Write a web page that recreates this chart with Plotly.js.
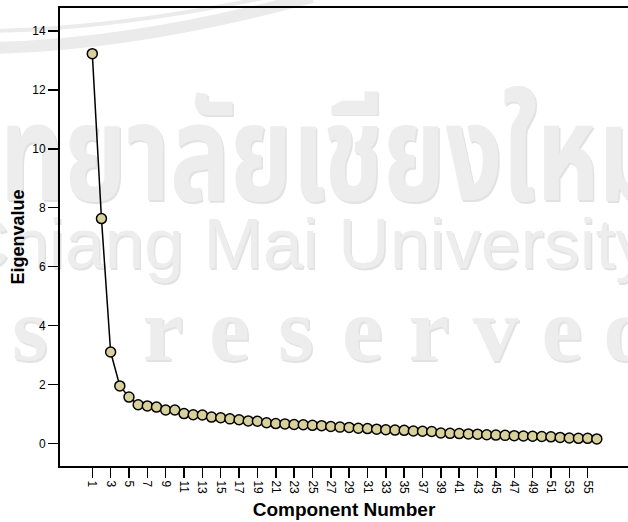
<!DOCTYPE html>
<html>
<head>
<meta charset="utf-8">
<script src="https://cdn.plot.ly/plotly-3.0.1.min.js"></script>
<style>
  html, body { margin: 0; padding: 0; background: #ffffff; }
  #wrap { position: relative; width: 628px; height: 522px; overflow: hidden; }
  #wm { position: absolute; left: 0; top: 0; z-index: 0; }
  #chart { position: absolute; left: 0; top: 0; z-index: 1; width: 628px; height: 522px; }
</style>
</head>
<body>
<div id="wrap">
<svg id="wm" width="628" height="522" xmlns="http://www.w3.org/2000/svg">
  <g fill="none" stroke="#ebebeb">
    <path d="M -5 31 Q 120 28 268 -3" stroke-width="4"/>
    <path d="M -5 48 Q 140 44 312 -3" stroke-width="12"/>
  </g>
  <g id="wmtext"></g>
</svg>
<div id="chart"></div>
</div>
<script>
// ---- data ----
var components = [1,2,3,4,5,6,7,8,9,10,11,12,13,14,15,16,17,18,19,20,21,22,23,24,25,26,27,28,
                  29,30,31,32,33,34,35,36,37,38,39,40,41,42,43,44,45,46,47,48,49,50,51,52,53,54,55,56];
var eigenvalues = [13.23,7.63,3.10,1.95,1.57,1.31,1.27,1.23,1.13,1.13,1.01,0.97,0.96,0.89,0.87,0.83,
                   0.80,0.76,0.75,0.70,0.67,0.66,0.64,0.63,0.61,0.60,0.57,0.55,0.54,0.51,0.50,0.48,
                   0.46,0.45,0.44,0.42,0.41,0.40,0.35,0.34,0.33,0.32,0.31,0.29,0.28,0.27,0.26,0.25,
                   0.24,0.23,0.22,0.20,0.18,0.17,0.17,0.15];
var xTickVals = [1,3,5,7,9,11,13,15,17,19,21,23,25,27,29,31,33,35,37,39,41,43,45,47,49,51,53,55];
var yTickVals = [0,2,4,6,8,10,12,14];
var xTitle = "Component Number";
var yTitle = "Eigenvalue";

// watermark texts (background of the scanned page)
var wmThai = "มหาวิทยาลัยเชียงใหม่";
var wmEng = "Chiang Mai University";
var wmRights = "All rights reserved";

// ---- watermark ----
(function () {
  var NS = "http://www.w3.org/2000/svg";
  var g = document.getElementById("wmtext");
  function addText(str, attrs) {
    var t = document.createElementNS(NS, "text");
    for (var k in attrs) t.setAttribute(k, attrs[k]);
    t.textContent = str;
    g.appendChild(t);
    return t;
  }
  var layers = [{dx: 1.5, dy: 1.5, fill: "#e2e2e2"}, {dx: 0, dy: 0, fill: "#ededed"}];
  layers.forEach(function (L) {
    addText(wmThai, {x: -222 + L.dx, y: 200 + L.dy, fill: L.fill,
      "font-family": "Noto Sans Thai, Loma, Garuda, Norasi, sans-serif", "font-weight": "bold",
      "font-size": 135, textLength: 885, lengthAdjust: "spacingAndGlyphs"});
    addText(wmEng, {x: -42 + L.dx, y: 268 + L.dy, fill: L.fill,
      "font-family": "Liberation Sans, Arial, sans-serif",
      "font-size": 70, textLength: 693, lengthAdjust: "spacingAndGlyphs"});
    var xs = [];
    for (var i = 0; i < wmRights.length; i++) xs.push(30 + (i - 9) * 66.5 + L.dx);
    addText(wmRights, {x: xs.join(" "), y: 360 + L.dy, fill: L.fill, "text-anchor": "middle",
      "font-family": "Liberation Serif, Times New Roman, serif", "font-weight": "bold",
      "font-size": 92});
  });
})();

// ---- chart ----
var trace = {
  x: components,
  y: eigenvalues,
  type: "scatter",
  mode: "lines+markers",
  line: {color: "#000000", width: 1.5},
  marker: {size: 10, color: "#d8d19c", line: {color: "#000000", width: 1.5}},
  hoverinfo: "skip",
  cliponaxis: false
};

var baseFont = "Arial, Liberation Sans, sans-serif";
var layout = {
  width: 628,
  height: 522,
  margin: {l: 60, r: 0, t: 8, b: 56, pad: 0},
  paper_bgcolor: "rgba(0,0,0,0)",
  plot_bgcolor: "rgba(0,0,0,0)",
  showlegend: false,
  font: {family: baseFont, color: "#000000", size: 12},
  xaxis: {
    range: [-2.52, 59.4],
    tickmode: "array",
    tickvals: xTickVals,
    ticktext: xTickVals.map(String),
    tickangle: 90,
    ticks: "outside",
    ticklen: 10,
    tickwidth: 1.5,
    tickcolor: "#000000",
    tickfont: {family: baseFont, size: 12, color: "#000000"},
    showline: true,
    linewidth: 2,
    linecolor: "#000000",
    mirror: true,
    showgrid: false,
    zeroline: false,
    title: {text: xTitle, font: {family: baseFont, size: 19, color: "#000000", weight: "bold"}, standoff: 10}
  },
  yaxis: {
    range: [-0.77, 14.78],
    tickmode: "array",
    tickvals: yTickVals,
    ticktext: yTickVals.map(String),
    ticks: "outside",
    ticklen: 10,
    tickwidth: 1.5,
    tickcolor: "#000000",
    tickfont: {family: baseFont, size: 12, color: "#000000"},
    showline: true,
    linewidth: 2,
    linecolor: "#000000",
    mirror: false,
    showgrid: false,
    zeroline: false,
    title: {text: yTitle, font: {family: baseFont, size: 18, color: "#000000", weight: "bold"}, standoff: 3}
  }
};

Plotly.newPlot("chart", [trace], layout, {displayModeBar: false, staticPlot: true});
</script>
</body>
</html>
